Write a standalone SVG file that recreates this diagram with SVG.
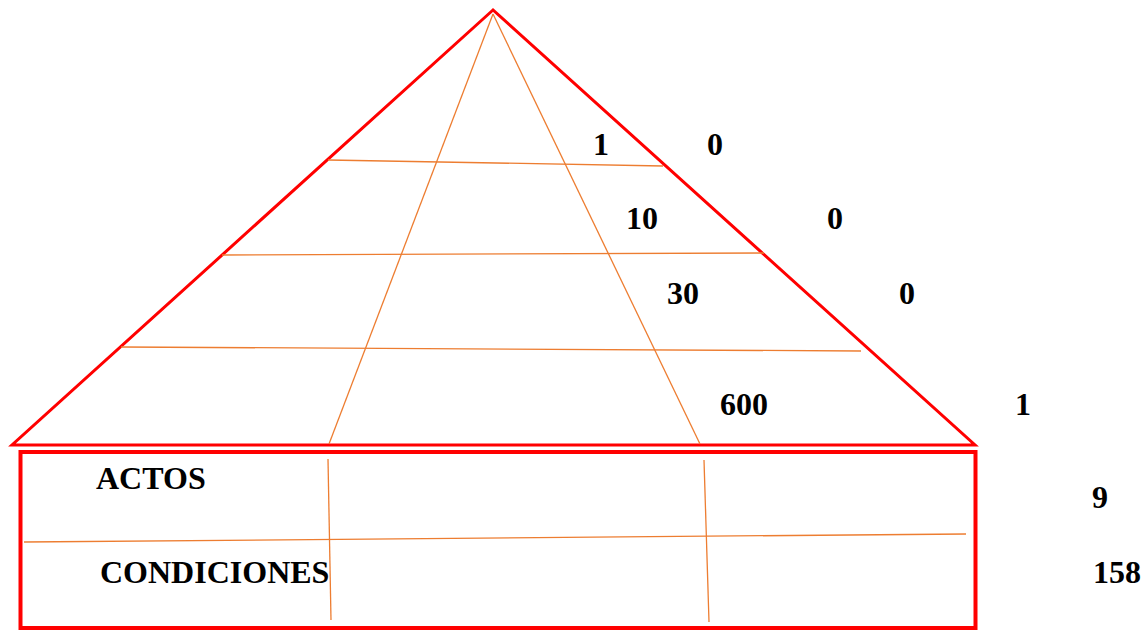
<svg xmlns="http://www.w3.org/2000/svg" width="1146" height="630" viewBox="0 0 1146 630">
  <style>
    .red { fill: none; stroke: #ff0000; }
    .grid line { stroke: #ed7d31; stroke-width: 1.3; fill: none; }
    text { font-family: "Liberation Serif", "Times New Roman", serif; font-weight: bold; font-size: 32px; fill: #000; }
  </style>
  <rect width="1146" height="630" fill="#ffffff"/>
  <g id="pyramid">
    <polygon class="red" stroke-width="3" points="493,10 12,445 975,445"/>
  </g>
  <g id="base">
    <rect class="red" stroke-width="4" x="20.5" y="452" width="955" height="176"/>
  </g>
  <g id="grid" class="grid">
    <line x1="493" y1="14" x2="329" y2="444"/>
    <line x1="493" y1="14" x2="700" y2="444"/>
    <line x1="328" y1="160" x2="663" y2="166"/>
    <line x1="222" y1="255" x2="764" y2="253"/>
    <line x1="121" y1="347" x2="861" y2="351"/>
    <line x1="328" y1="459" x2="331" y2="620"/>
    <line x1="704" y1="460" x2="709" y2="622"/>
    <line x1="24" y1="542" x2="966" y2="534"/>
  </g>
  <g id="labels">
    <text x="96" y="489">ACTOS</text>
    <text x="100" y="583">CONDICIONES</text>
    <text x="593" y="155">1</text>
    <text x="707" y="155">0</text>
    <text x="626" y="229">10</text>
    <text x="827" y="229">0</text>
    <text x="667" y="304">30</text>
    <text x="899" y="304">0</text>
    <text x="720" y="415">600</text>
    <text x="1015" y="415">1</text>
    <text x="1092" y="508">9</text>
    <text x="1093" y="583">158</text>
  </g>
</svg>
